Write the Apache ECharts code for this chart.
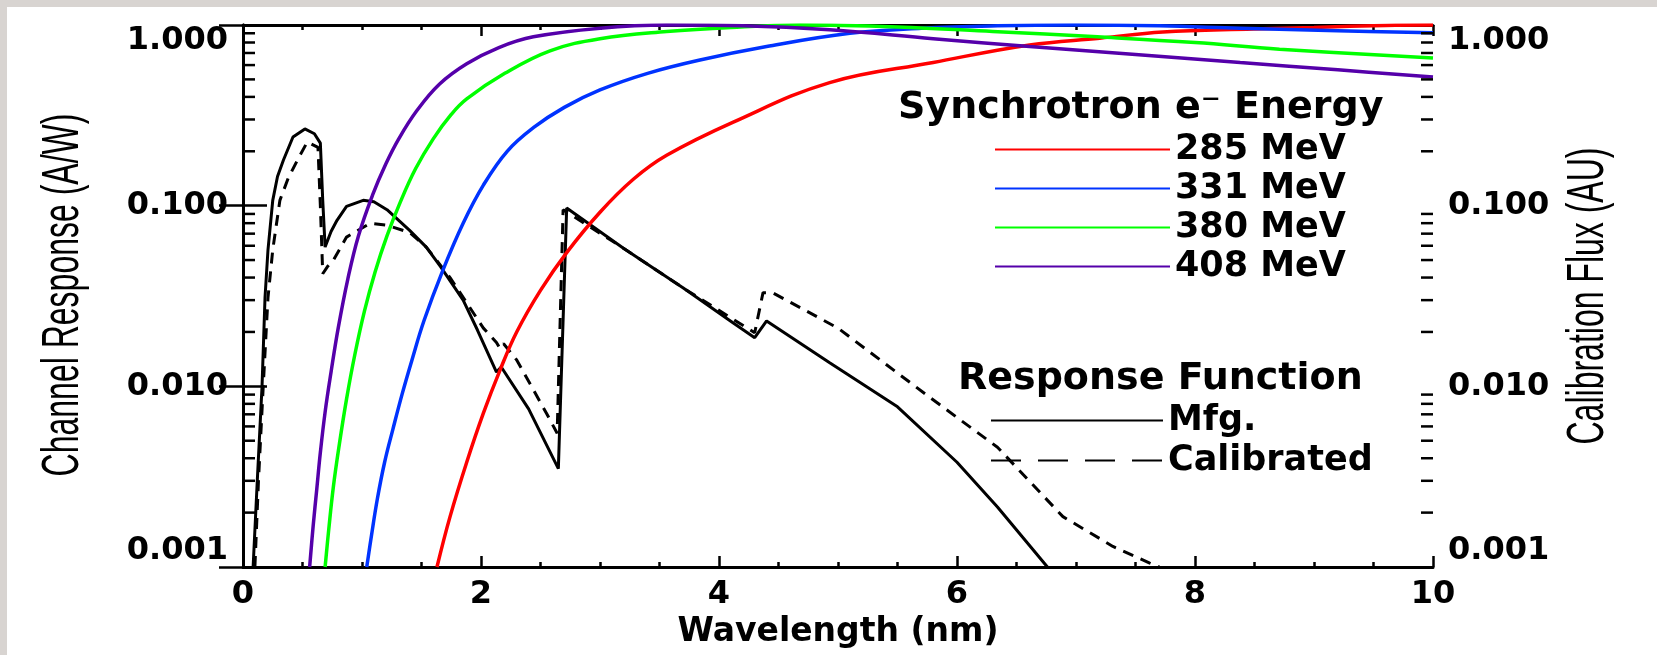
<!DOCTYPE html>
<html>
<head>
<meta charset="utf-8">
<script src="https://cdn.jsdelivr.net/npm/echarts@6/dist/echarts.min.js"></script>
<style>
  html, body { margin: 0; padding: 0; width: 1657px; height: 655px; background: #d8d4d1; overflow: hidden; }
  #chart { position: absolute; left: 7px; top: 7px; width: 1650px; height: 648px; background: #ffffff; }
</style>
</head>
<body>
<div id="chart"></div>
<script>
// ---------------- data ----------------
const xTickMin = 0, xTickMax = 10, xTickInterval = 2;
const yLogMin = 0.001, yLogMax = 1;
const minorTickValues = [0.002,0.003,0.004,0.005,0.006,0.007,0.008,0.009,
                         0.02,0.03,0.04,0.05,0.06,0.07,0.08,0.09,
                         0.2,0.3,0.4,0.5,0.6,0.7,0.8,0.9];

const energyNames = ['285 MeV', '331 MeV', '380 MeV', '408 MeV'];
const responseNames = ['Mfg.', 'Calibrated'];

// Response function, manufacturer (solid)
const mfgX = [0.085,0.12,0.16,0.185,0.21,0.25,0.29,0.34,0.42,0.52,0.60,0.65,0.67,0.69,0.74,0.79,0.87,1.01,1.10,1.21,1.40,1.54,1.66,1.85,1.97,2.13,2.17,2.40,2.65,2.72,3.20,3.70,4.12,4.30,4.40,4.93,5.50,6.00,6.34,6.76];
const mfgY = [0.001,0.003,0.01,0.031,0.057,0.107,0.145,0.179,0.24,0.266,0.25,0.222,0.107,0.059,0.072,0.083,0.099,0.107,0.105,0.095,0.073,0.059,0.046,0.030,0.0205,0.012,0.0128,0.0075,0.0035,0.097,0.058,0.035,0.0224,0.0186,0.023,0.0135,0.0077,0.0038,0.00215,0.001];

// Response function, calibrated (dashed)
const calX = [0.10,0.13,0.17,0.21,0.25,0.31,0.38,0.46,0.54,0.63,0.65,0.67,0.71,0.76,0.87,1.07,1.21,1.40,1.54,1.74,2.02,2.13,2.16,2.19,2.30,2.55,2.64,2.69,3.20,3.70,4.12,4.30,4.37,4.45,5.00,5.77,6.34,6.89,7.31,7.62,7.70];
const calY = [0.001,0.003,0.01,0.031,0.057,0.107,0.142,0.18,0.225,0.21,0.1,0.042,0.046,0.05,0.067,0.08,0.078,0.071,0.059,0.040,0.021,0.0175,0.0162,0.0172,0.014,0.0071,0.0055,0.095,0.058,0.035,0.0235,0.0198,0.033,0.033,0.021,0.0087,0.0046,0.0019,0.0013,0.00105,0.001];

// Calibration flux curves
const e285X = [1.63,1.74,1.88,2.02,2.16,2.30,2.50,2.72,3.0,3.28,3.56,4.12,4.93,5.8,6.61,7.2,7.73,8.49,9.0,9.6,10];
const e285Y = [0.001,0.0019,0.0038,0.0071,0.0123,0.02,0.034,0.055,0.092,0.14,0.19,0.29,0.48,0.62,0.775,0.845,0.915,0.95,0.97,0.995,1.0];

const e331X = [1.04,1.08,1.13,1.19,1.26,1.34,1.42,1.52,1.68,1.85,2.02,2.22,2.44,2.7,3.0,3.4,3.84,4.4,5.1,5.7,6.34,7.0,7.7,8.38,9.2,10];
const e331Y = [0.001,0.0015,0.0024,0.0038,0.0058,0.0092,0.014,0.023,0.044,0.08,0.13,0.2,0.27,0.35,0.437,0.54,0.64,0.76,0.9,0.96,0.99,1.0,0.99,0.96,0.93,0.905];

const e380X = [0.69,0.72,0.76,0.81,0.87,0.94,1.02,1.11,1.21,1.32,1.45,1.60,1.75,1.88,2.2,2.58,3.0,3.56,4.1,4.68,5.5,6.3,7.18,8.0,8.71,10];
const e380Y = [0.001,0.0016,0.0028,0.0048,0.0085,0.015,0.026,0.043,0.068,0.104,0.16,0.235,0.32,0.39,0.54,0.72,0.84,0.92,0.97,1.0,0.975,0.92,0.86,0.80,0.735,0.656];

const e408X = [0.56,0.59,0.62,0.65,0.69,0.74,0.80,0.88,0.97,1.09,1.20,1.31,1.46,1.65,1.88,2.15,2.44,3.0,3.56,4.2,4.93,5.8,6.61,7.5,8.38,9.2,10];
const e408Y = [0.001,0.0017,0.0027,0.0043,0.0072,0.012,0.021,0.039,0.068,0.115,0.17,0.235,0.335,0.47,0.61,0.75,0.86,0.96,1.0,0.99,0.94,0.84,0.76,0.686,0.62,0.565,0.515];

// ---------------- chart ----------------
const pairs = (xs, ys) => xs.map((x, i) => [x, ys[i]]);
const numFont = 'DejaVu Sans';
const black = '#000000';

const xAxisBase = {
  type: 'value', min: xTickMin, max: xTickMax, interval: xTickInterval,
  splitLine: { show: false },
  axisLine: { show: true, lineStyle: { color: black, width: 3 } },
  axisTick: { show: true, inside: true, length: 11, lineStyle: { color: black, width: 2.5 } },
  minorTick: { show: true, splitNumber: 4, length: 5, lineStyle: { color: black, width: 2.5 } },
  minorSplitLine: { show: false }
};
const yAxisBase = {
  type: 'log', logBase: 10, min: yLogMin, max: yLogMax,
  splitLine: { show: false },
  axisLine: { show: true, lineStyle: { color: black, width: 3 } },
  axisTick: { show: true, inside: true, length: 24, lineStyle: { color: black, width: 2.5 } },
  axisLabel: {
    show: true, margin: 15, color: black, fontFamily: numFont, fontWeight: 'bold', fontSize: 32,
    formatter: v => Number(v).toFixed(3),
    verticalAlignMinLabel: 'bottom', verticalAlignMaxLabel: 'top'
  }
};

const colorSeries = [
  { name: energyNames[0], xs: e285X, ys: e285Y, color: '#ff0000' },
  { name: energyNames[1], xs: e331X, ys: e331Y, color: '#0033ff' },
  { name: energyNames[2], xs: e380X, ys: e380Y, color: '#00ff00' },
  { name: energyNames[3], xs: e408X, ys: e408Y, color: '#5500aa' }
];

function minorTickSeries(name, atX, dir) {
  return {
    name: name, type: 'custom', xAxisIndex: 0, yAxisIndex: 0, silent: true, z: 5, clip: false,
    data: minorTickValues.map(v => [atX, v]),
    renderItem: function (params, api) {
      const p = api.coord([api.value(0), api.value(1)]);
      return {
        type: 'line',
        shape: { x1: p[0], y1: p[1], x2: p[0] + dir * 12, y2: p[1] },
        style: { stroke: black, lineWidth: 2.5 }
      };
    }
  };
}

const series = [
  minorTickSeries('minor ticks left', xTickMin, 1),
  minorTickSeries('minor ticks right', xTickMax, -1),
  {
    name: responseNames[0], type: 'line', xAxisIndex: 0, yAxisIndex: 0,
    data: pairs(mfgX, mfgY), symbol: 'none', showSymbol: false, z: 2,
    color: black, lineStyle: { color: black, width: 3, type: 'solid' }
  },
  {
    name: responseNames[1], type: 'line', xAxisIndex: 0, yAxisIndex: 0,
    data: pairs(calX, calY), symbol: 'none', showSymbol: false, z: 2,
    color: black, lineStyle: { color: black, width: 3, type: [11, 8] }
  }
].concat(colorSeries.map(s => ({
  name: s.name, type: 'line', xAxisIndex: 0, yAxisIndex: 1,
  data: pairs(s.xs, s.ys), symbol: 'none', showSymbol: false, smooth: 0.4, z: 3,
  color: s.color, lineStyle: { color: s.color, width: 3.5 }
})));

const legendText = { color: black, fontFamily: numFont, fontWeight: 'bold', fontSize: 35, lineHeight: 30 };

const option = {
  animation: false,
  backgroundColor: '#ffffff',
  grid: { left: 236, right: 224, top: 18, bottom: 88, containLabel: false },
  xAxis: [
    Object.assign({}, xAxisBase, {
      position: 'bottom',
      axisLabel: { show: true, margin: 12, color: black, fontFamily: numFont, fontWeight: 'bold', fontSize: 32 },
      name: 'Wavelength (nm)', nameLocation: 'middle', nameGap: 46,
      nameTextStyle: { color: black, fontFamily: numFont, fontWeight: 'bold', fontSize: 33 }
    }),
    Object.assign({}, xAxisBase, { position: 'top', axisLabel: { show: false } })
  ],
  yAxis: [
    Object.assign({}, yAxisBase, { position: 'left' }),
    Object.assign({}, yAxisBase, { position: 'right' })
  ],
  title: [
    { text: 'Synchrotron e\u207B Energy', left: 891, top: 82, padding: 0,
      textStyle: { color: black, fontFamily: numFont, fontWeight: 'bold', fontSize: 38 } },
    { text: 'Response Function', left: 951, top: 353, padding: 0,
      textStyle: { color: black, fontFamily: numFont, fontWeight: 'bold', fontSize: 38 } }
  ],
  legend: [
    { data: energyNames, orient: 'vertical', left: 987, top: 125, padding: 0, itemGap: 4,
      itemWidth: 175, itemHeight: 2, selectedMode: false, textStyle: legendText,
      itemStyle: { opacity: 0, borderWidth: 0 } },
    { data: [{ name: responseNames[0] }, { name: responseNames[1], lineStyle: { type: [30, 17] } }],
      orient: 'vertical', left: 983, top: 396, padding: 0, itemGap: 5,
      itemWidth: 172, itemHeight: 2, selectedMode: false, textStyle: legendText,
      itemStyle: { opacity: 0, borderWidth: 0 } }
  ],
  graphic: [
    { type: 'text', x: 57, y: 288, rotation: Math.PI / 2, scaleY: 1.6, silent: true,
      style: { text: 'Channel Response (A/W)', fill: black, fontFamily: 'Liberation Sans', fontSize: 32,
               align: 'center', verticalAlign: 'middle', textAlign: 'center', textVerticalAlign: 'middle' } },
    { type: 'text', x: 1582, y: 289, rotation: Math.PI / 2, scaleY: 1.6, silent: true,
      style: { text: 'Calibration Flux (AU)', fill: black, fontFamily: 'Liberation Sans', fontSize: 32,
               align: 'center', verticalAlign: 'middle', textAlign: 'center', textVerticalAlign: 'middle' } }
  ],
  series: series
};

const chart = echarts.init(document.getElementById('chart'), null, { renderer: 'canvas' });
chart.setOption(option);
</script>
</body>
</html>
